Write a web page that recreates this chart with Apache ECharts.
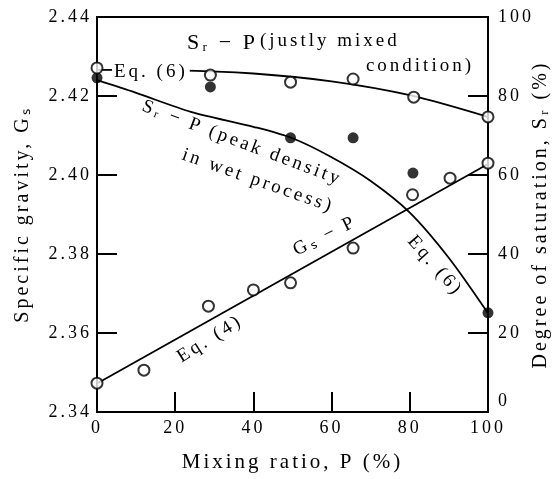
<!DOCTYPE html>
<html>
<head>
<meta charset="utf-8">
<script src="https://cdn.jsdelivr.net/npm/echarts@6.0.0/dist/echarts.min.js"></script>
<style>
  html, body { margin: 0; padding: 0; background: #fff; }
  #chart { width: 553px; height: 479px; }
</style>
</head>
<body>
<div id="chart"></div>
<script>
// Gs - P (open circles + straight line, Eq. 4)
const gsP = [0, 12, 28.5, 40, 49.5, 65.5, 80.7, 90.3, 100];
const gsVal = [2.3473, 2.3506, 2.3668, 2.3709, 2.3727, 2.3815, 2.3950, 2.3992, 2.4030];
const gsLineP = [0, 100];
const gsLineVal = [2.3472, 2.4028];

// Sr - P, justly mixed condition (open circles + Eq. 6 curve)
const justP = [0, 29, 49.5, 65.5, 81, 100];
const justSr = [87.1, 85.3, 83.5, 84.3, 79.7, 74.7];
const justCurveP = [0, 20, 40, 60, 80, 100];
const justCurveSr = [86.6, 86.5, 85.7, 83.7, 80.2, 74.7];

// Sr - P, peak density in wet process (filled circles + Eq. 6 curve)
const peakP = [0, 29, 49.5, 65.5, 80.8, 100];
const peakSr = [84.6, 82.3, 69.4, 69.4, 60.5, 25.1];
const peakCurveP = [0, 10, 24, 40, 50, 60, 70, 80, 90, 100];
const peakCurveSr = [84.0, 80.8, 76.0, 72.2, 69.3, 64.5, 58.5, 50.5, 39.0, 25.0];

// axis ranges
const xRange = [0, 100, 20];
const gsRange = [2.34, 2.44, 0.02];
const srRange = [0, 100, 20];

// the scan is typeset with wide letter spacing
['fillText', 'strokeText', 'measureText'].forEach(function (fn) {
    const orig = CanvasRenderingContext2D.prototype[fn];
    CanvasRenderingContext2D.prototype[fn] = function () {
        this.letterSpacing = '3px';
        return orig.apply(this, arguments);
    };
});

const serif = 'Liberation Serif';
const pairs = (xs, ys) => xs.map((x, i) => [x, ys[i]]);

const chart = echarts.init(document.getElementById('chart'));

const axisLine = { lineStyle: { color: '#000', width: 2 } };
const tick = { inside: true, length: 20, lineStyle: { color: '#000', width: 2 } };
const tickLabel = { color: '#000', fontFamily: serif, fontSize: 18 };

const openMark = { color: '#fff', borderColor: '#000', borderWidth: 2 };
const curve = { color: '#000', width: 1.8 };

function label(text, x, y, rot, size, align) {
    return {
        type: 'text', x: x, y: y, rotation: rot || 0, z: 100,
        style: {
            text: text, fill: '#000',
            font: (size || 19) + 'px "' + serif + '"',
            align: align || 'center', textAlign: align || 'center',
            verticalAlign: 'middle', textVerticalAlign: 'middle'
        }
    };
}

var eq6 = label('Eq. (6)', 112, 72, 0, 19, 'left');
eq6.style.backgroundColor = '#fff';
eq6.style.padding = [0, 2, 0, 2];

var option = {
    animation: false,
    backgroundColor: '#fff',
    grid: {
        left: 97, right: 65, top: 17, bottom: 67, containLabel: false, outerBoundsMode: 'none',
        show: true, borderColor: '#000', borderWidth: 2
    },
    xAxis: {
        type: 'value', min: xRange[0], max: xRange[1], interval: xRange[2],
        axisLine: axisLine, axisTick: tick, splitLine: { show: false },
        axisLabel: Object.assign({ margin: 6 }, tickLabel),
        name: 'Mixing ratio, P (%)', nameLocation: 'middle', nameGap: 38, nameMoveOverlap: false,
        nameTextStyle: { color: '#000', fontFamily: serif, fontSize: 21 }
    },
    yAxis: [{
        type: 'value', min: gsRange[0], max: gsRange[1], interval: gsRange[2],
        axisLine: axisLine, axisTick: tick, splitLine: { show: false },
        axisLabel: Object.assign({ margin: 5, formatter: v => v.toFixed(2) }, tickLabel),
        name: 'Specific gravity, Gₛ', nameLocation: 'middle', nameGap: 63, nameRotate: 90,
        nameMoveOverlap: false,
        nameTextStyle: { color: '#000', fontFamily: serif, fontSize: 20 }
    }, {
        type: 'value', position: 'right', min: srRange[0], max: srRange[1], interval: srRange[2],
        axisLine: axisLine, axisTick: tick, splitLine: { show: false },
        axisLabel: Object.assign({ margin: 10, verticalAlignMinLabel: 'bottom' }, tickLabel),
        name: 'Degree of saturation, Sᵣ (%)', nameLocation: 'middle', nameGap: 41, nameRotate: 90,
        nameMoveOverlap: false,
        nameTextStyle: { color: '#000', fontFamily: serif, fontSize: 20 }
    }],
    series: [{
        type: 'line', yAxisIndex: 0, data: pairs(gsLineP, gsLineVal),
        showSymbol: false, lineStyle: curve, z: 2
    }, {
        type: 'line', yAxisIndex: 1, data: pairs(justCurveP, justCurveSr),
        smooth: 0.3, showSymbol: false, lineStyle: curve, z: 2
    }, {
        type: 'line', yAxisIndex: 1, data: pairs(peakCurveP, peakCurveSr),
        smooth: 0.3, showSymbol: false, lineStyle: curve, z: 2
    }, {
        type: 'scatter', yAxisIndex: 0, data: pairs(gsP, gsVal),
        symbolSize: 11, itemStyle: openMark, z: 3
    }, {
        type: 'scatter', yAxisIndex: 1, data: pairs(peakP, peakSr),
        symbolSize: 11, itemStyle: { color: '#000' }, z: 3
    }, {
        type: 'scatter', yAxisIndex: 1, data: pairs(justP, justSr),
        symbolSize: 11, itemStyle: openMark, z: 4
    }],
    graphic: [
        label('Sᵣ − P', 187, 43, 0, 22, 'left'),
        label('(justly mixed', 260, 41, 0, 19, 'left'),
        label('condition)', 474, 66, 0, 19, 'right'),
        eq6,
        label('Sᵣ − P (peak density', 242, 143, -0.36, 19),
        label('in wet process)', 258, 181, -0.34, 19),
        label('Gₛ − P', 325, 236, 0.46, 19),
        label('Eq. (6)', 435, 266, -0.85, 19),
        label('Eq. (4)', 210, 339, 0.56, 19)
    ]
};

chart.setOption(option);
</script>
</body>
</html>
